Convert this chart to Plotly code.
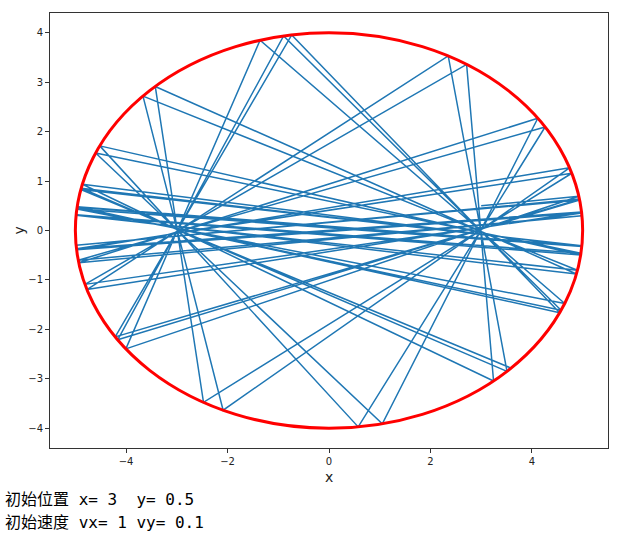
import plotly.graph_objects as go

# Bounce points of the ball path inside the ellipse
path_x = [3.000, 4.925, -4.005, -1.359, 4.647, -4.970, 4.983, -4.862, 3.244, 2.713,
          -4.811, 4.980, -4.976, 4.742, -2.087, -3.667, 4.898, -4.985, 4.962, -4.519,
          0.576, 4.260, -4.943, 4.986, -4.933, 4.116, 1.051, -4.600, 4.967, -4.984,
          4.878, -3.425, -2.474, 4.786, -4.979, 4.978, -4.772, 2.350, 3.509, -4.885,
          4.985, -4.965, 4.575, -0.895, -4.166, 4.937, -4.986, 4.940, -4.215, -0.735,
          4.548, -4.963, 4.985, -4.892, 3.591]
path_y = [0.500, 0.692, -2.395, 3.849, -1.477, 0.437, -0.326, 0.935, -3.044, 3.360,
          -1.090, 0.353, -0.390, 1.268, -3.635, 2.719, -0.804, 0.308, -0.495, 1.712,
          -3.973, 2.094, -0.600, 0.297, -0.653, 2.271, -3.911, 1.568, -0.459, 0.318,
          -0.880, 2.914, -3.476, 1.158, -0.367, 0.374, -1.194, 3.531, -2.849, 0.854,
          -0.315, 0.470, -1.614, 3.935, -2.212, 0.635, -0.297, 0.617, -2.152, 3.957,
          -1.663, 0.482, -0.311, 0.829, -2.783]

# Ellipse semi-axes
semi_a = 5
semi_b = 4

x_ticks = [-4, -2, 0, 2, 4]
y_ticks = [-4, -3, -2, -1, 0, 1, 2, 3, 4]

info_lines = ["初始位置 x= 3  y= 0.5", "初始速度 vx= 1 vy= 0.1"]

fig = go.Figure()
fig.add_trace(go.Scatter(x=path_x, y=path_y, mode="lines",
                         line=dict(color="#1f77b4", width=1.5), hoverinfo="skip"))
fig.add_shape(type="circle", xref="x", yref="y",
              x0=-semi_a, x1=semi_a, y0=-semi_b, y1=semi_b,
              line=dict(color="red", width=3), layer="above")

tick_font = dict(family="DejaVu Sans", size=10, color="#222")
fig.update_layout(
    width=639, height=541, showlegend=False,
    plot_bgcolor="white", paper_bgcolor="white",
    margin=dict(l=50, r=31, t=13, b=93),
    font=dict(family="DejaVu Sans", color="#222"),
)
fig.update_xaxes(range=[-5.5, 5.5], tickvals=x_ticks, showgrid=False, zeroline=False,
                 showline=True, mirror=True, linecolor="#333", linewidth=1,
                 ticks="outside", ticklen=4, tickcolor="#333", tickfont=tick_font)
fig.update_yaxes(range=[-4.4, 4.4], tickvals=y_ticks, showgrid=False, zeroline=False,
                 showline=True, mirror=True, linecolor="#333", linewidth=1,
                 ticks="outside", ticklen=4, tickcolor="#333", tickfont=tick_font)

# Axis labels
fig.add_annotation(text="x", xref="paper", yref="paper", x=0.5, y=-0.067,
                   xanchor="center", yanchor="middle", showarrow=False,
                   font=dict(family="DejaVu Sans", size=14, color="#222"))
fig.add_annotation(text="y", xref="paper", yref="paper", x=(18 - 50) / 558, y=0.5,
                   xanchor="center", yanchor="middle", showarrow=False, textangle=-90,
                   font=dict(family="DejaVu Sans", size=14, color="#222"))

# Info text below the chart
for i, line in enumerate(info_lines):
    fig.add_annotation(text=line, xref="paper", yref="paper",
                       x=(3 - 50) / 558, y=(448 - (499 + 23 * i)) / 435,
                       xanchor="left", yanchor="middle", showarrow=False,
                       font=dict(family="DejaVu Sans Mono, Noto Sans CJK SC", size=16, color="black"))

fig.write_html("out.html", config={"displayModeBar": False},
               post_script="document.body.style.margin='0';document.body.style.overflow='hidden';")
